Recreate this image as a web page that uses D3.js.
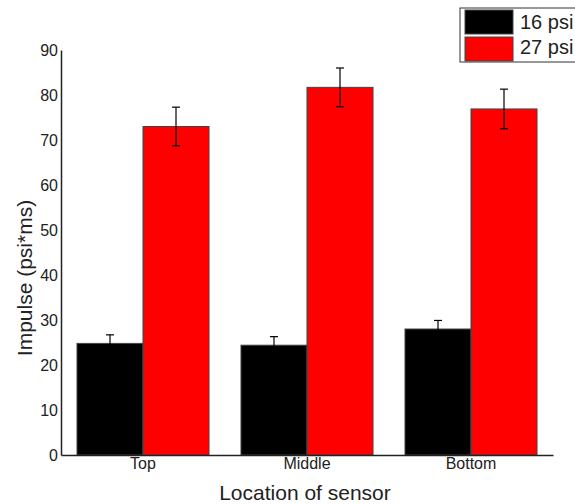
<!DOCTYPE html>
<html>
<head>
<meta charset="utf-8">
<script src="https://cdn.jsdelivr.net/npm/d3@7"></script>
<style>
  body { margin: 0; background: #fff; }
  svg { font-family: "Liberation Sans", Arial, sans-serif; }
</style>
</head>
<body>
<svg id="chart" width="575" height="504"></svg>
<script>
const locations = ['Top', 'Middle', 'Bottom'];
const seriesNames = ['16 psi', '27 psi'];
const seriesColors = ['#000000', '#ff0000'];
const psi16 = [24.8, 24.4, 28.0];
const psi27 = [73.0, 81.7, 76.9];
const err16 = [1.9, 1.9, 1.9];
const err27 = [4.3, 4.3, 4.4];
const yTicks = [0, 10, 20, 30, 40, 50, 60, 70, 80, 90];

let svg = d3.select('#chart');

let margin = { left: 61, right: 22, top: 50, bottom: 49 };
let width = 575, height = 504;

let rows = locations.map((loc, i) => ({
  loc: loc,
  vals: [
    { s: 0, v: psi16[i], e: err16[i] },
    { s: 1, v: psi27[i], e: err27[i] }
  ]
}));

let x0 = d3.scaleBand()
  .domain(locations)
  .range([margin.left, width - margin.right])
  .paddingInner(0.195)
  .paddingOuter(0.0975);

let x1 = d3.scaleBand()
  .domain([0, 1])
  .range([0, x0.bandwidth()]);

let y = d3.scaleLinear()
  .domain([0, 90])
  .range([height - margin.bottom, margin.top]);

// bars
let groups = svg.selectAll('.grp')
  .data(rows)
  .enter()
  .append('g')
  .attr('class', 'grp')
  .attr('transform', d => `translate(${x0(d.loc)},0)`);

groups.selectAll('rect')
  .data(d => d.vals)
  .enter()
  .append('rect')
  .attr('x', d => x1(d.s))
  .attr('y', d => y(d.v))
  .attr('width', x1.bandwidth())
  .attr('height', d => y(0) - y(d.v))
  .attr('fill', d => seriesColors[d.s])
  .attr('stroke', '#444')
  .attr('stroke-width', 1);

// error bars
let eb = groups.selectAll('.err')
  .data(d => d.vals)
  .enter()
  .append('g')
  .attr('class', 'err')
  .attr('stroke', '#000')
  .attr('stroke-width', 1.2);

eb.append('line')
  .attr('x1', d => x1(d.s) + x1.bandwidth() / 2)
  .attr('x2', d => x1(d.s) + x1.bandwidth() / 2)
  .attr('y1', d => y(d.v + d.e))
  .attr('y2', d => y(d.v - d.e));

[1, -1].forEach(sign => {
  eb.append('line')
    .attr('x1', d => x1(d.s) + x1.bandwidth() / 2 - 4)
    .attr('x2', d => x1(d.s) + x1.bandwidth() / 2 + 4)
    .attr('y1', d => y(d.v + sign * d.e))
    .attr('y2', d => y(d.v + sign * d.e));
});

// axes
let yAxis = svg.append('g')
  .attr('transform', `translate(${margin.left},0)`)
  .call(d3.axisLeft(y).tickValues(yTicks).tickSize(0).tickPadding(3));
yAxis.select('.domain').attr('stroke', '#222').attr('stroke-width', 1.5);
yAxis.selectAll('text').attr('font-size', 16).attr('fill', '#222')
  .style('font-family', '"Liberation Sans", Arial, sans-serif');

let xAxis = svg.append('g')
  .attr('transform', `translate(0,${y(0)})`)
  .call(d3.axisBottom(x0).tickSize(0).tickPadding(3));
xAxis.select('.domain').attr('stroke', '#222').attr('stroke-width', 1.5);
xAxis.selectAll('text').attr('font-size', 16).attr('fill', '#222')
  .style('font-family', '"Liberation Sans", Arial, sans-serif');

// axis titles
svg.append('text')
  .attr('x', 305)
  .attr('y', 500)
  .attr('text-anchor', 'middle')
  .attr('font-size', 21)
  .attr('fill', '#222')
  .text('Location of sensor');

svg.append('text')
  .attr('transform', 'translate(32,278) rotate(-90)')
  .attr('text-anchor', 'middle')
  .attr('font-size', 21)
  .attr('fill', '#222')
  .text('Impulse (psi*ms)');

// legend
let legend = svg.append('g').attr('transform', 'translate(460,8)');
legend.append('rect')
  .attr('width', 130)
  .attr('height', 54)
  .attr('fill', '#fff')
  .attr('stroke', '#333')
  .attr('stroke-width', 1);

seriesNames.forEach((name, i) => {
  legend.append('rect')
    .attr('x', 5)
    .attr('y', 2 + i * 27)
    .attr('width', 48)
    .attr('height', 24)
    .attr('fill', seriesColors[i])
    .attr('stroke', '#444');
  legend.append('text')
    .attr('x', 60)
    .attr('y', 21 + i * 25)
    .attr('font-size', 20)
    .attr('fill', '#222')
    .text(name);
});
</script>
</body>
</html>
